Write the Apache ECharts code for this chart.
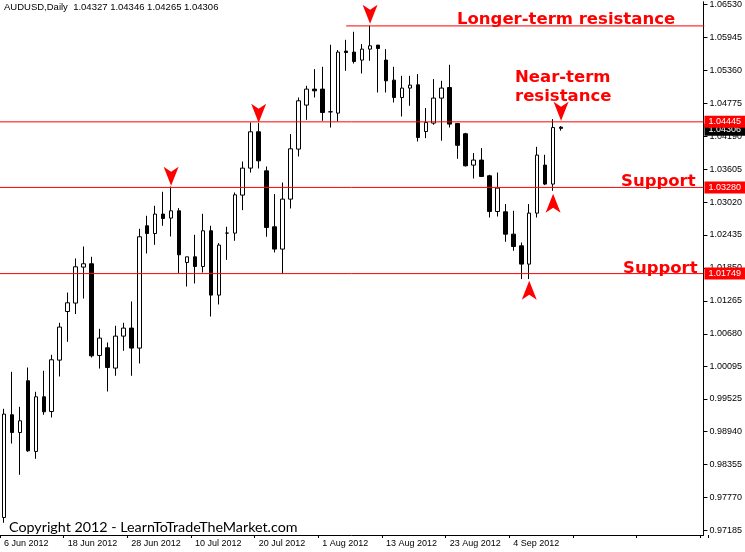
<!DOCTYPE html>
<html>
<head>
<meta charset="utf-8">
<script src="https://cdn.jsdelivr.net/npm/echarts@6/dist/echarts.min.js"></script>
<style>
  html, body { margin: 0; padding: 0; background: #fff; }
  #chart { width: 745px; height: 552px; }
</style>
</head>
<body>
<div id="chart"></div>
<script>
// AUDUSD daily candles, 6 Jun 2012 - 12 Sep 2012
const symbol = 'AUDUSD';
const period = 'Daily';

const dates = [
  '6 Jun 2012', '7 Jun 2012', '8 Jun 2012', '11 Jun 2012', '12 Jun 2012', '13 Jun 2012', '14 Jun 2012', '15 Jun 2012',
  '18 Jun 2012', '19 Jun 2012', '20 Jun 2012', '21 Jun 2012', '22 Jun 2012', '25 Jun 2012', '26 Jun 2012', '27 Jun 2012',
  '28 Jun 2012', '29 Jun 2012', '2 Jul 2012', '3 Jul 2012', '4 Jul 2012', '5 Jul 2012', '6 Jul 2012', '9 Jul 2012',
  '10 Jul 2012', '11 Jul 2012', '12 Jul 2012', '13 Jul 2012', '16 Jul 2012', '17 Jul 2012', '18 Jul 2012', '19 Jul 2012',
  '20 Jul 2012', '23 Jul 2012', '24 Jul 2012', '25 Jul 2012', '26 Jul 2012', '27 Jul 2012', '30 Jul 2012', '31 Jul 2012',
  '1 Aug 2012', '2 Aug 2012', '3 Aug 2012', '6 Aug 2012', '7 Aug 2012', '8 Aug 2012', '9 Aug 2012', '10 Aug 2012',
  '13 Aug 2012', '14 Aug 2012', '15 Aug 2012', '16 Aug 2012', '17 Aug 2012', '20 Aug 2012', '21 Aug 2012', '22 Aug 2012',
  '23 Aug 2012', '24 Aug 2012', '27 Aug 2012', '28 Aug 2012', '29 Aug 2012', '30 Aug 2012', '31 Aug 2012', '3 Sep 2012',
  '4 Sep 2012', '5 Sep 2012', '6 Sep 2012', '7 Sep 2012', '10 Sep 2012', '11 Sep 2012', '12 Sep 2012'
];

const opens = [
  0.97415, 0.99234, 0.98920, 0.99836, 0.98584, 0.99552, 0.99292, 1.00202,
  1.01063, 1.01212, 1.01849, 1.01908, 1.00284, 1.00420, 1.00061, 1.00627,
  1.00769, 1.00415, 1.02581, 1.02444, 1.02788, 1.02717, 1.02846, 1.01931,
  1.02031, 1.01860, 1.02492, 1.01353, 1.02451, 1.02451, 1.03124, 1.03602,
  1.04245, 1.03554, 1.02563, 1.02168, 1.03053, 1.03939, 1.04718, 1.05001,
  1.05001, 1.04599, 1.04576, 1.05674, 1.05656, 1.05515, 1.05709, 1.05780,
  1.05515, 1.05160, 1.04852, 1.05019, 1.05077, 1.04250, 1.04399, 1.04842,
  1.05029, 1.04392, 1.04210, 1.03655, 1.03744, 1.03466, 1.02834, 1.02828,
  1.02433, 1.02226, 1.01902, 1.02805, 1.03655, 1.03319, 1.04327
];

const highs = [
  0.99340, 0.99995, 0.99375, 1.00071, 0.99641, 1.00013, 1.00296, 1.00863,
  1.01399, 1.02002, 1.02214, 1.02031, 1.00756, 1.00514, 1.00810, 1.00863,
  1.01240, 1.02527, 1.02758, 1.02935, 1.03183, 1.03275, 1.02894, 1.02031,
  1.02421, 1.02793, 1.02581, 1.02274, 1.02563, 1.03170, 1.03719, 1.04410,
  1.04400, 1.03631, 1.03142, 1.03347, 1.04204, 1.04852, 1.05060, 1.05355,
  1.05396, 1.05786, 1.05692, 1.05874, 1.06016, 1.05798, 1.06122, 1.05780,
  1.05709, 1.05396, 1.05237, 1.05237, 1.05267, 1.04665, 1.05178, 1.05148,
  1.05431, 1.04392, 1.04227, 1.03868, 1.03956, 1.03484, 1.03524, 1.02965,
  1.02846, 1.02285, 1.02965, 1.03979, 1.03838, 1.04470, 1.04346
];

const lows = [
  0.97321, 0.98725, 0.98171, 0.98578, 0.98454, 0.99234, 0.99186, 0.99912,
  1.00526, 1.01017, 1.01293, 1.00248, 1.00053, 0.99646, 0.99924, 1.00367,
  0.99924, 1.00142, 1.02090, 1.02244, 1.02581, 1.02391, 1.01743, 1.01506,
  1.01559, 1.01753, 1.00974, 1.01187, 1.01978, 1.02315, 1.02858, 1.03524,
  1.03595, 1.02386, 1.02108, 1.01725, 1.02887, 1.03808, 1.04457, 1.04852,
  1.04440, 1.04321, 1.04427, 1.05325, 1.05454, 1.05277, 1.05502, 1.04941,
  1.04941, 1.04764, 1.04516, 1.04705, 1.04073, 1.04133, 1.04369, 1.04086,
  1.04321, 1.03767, 1.03631, 1.03418, 1.03448, 1.02727, 1.02745, 1.02297,
  1.02138, 1.01637, 1.01637, 1.02727, 1.03301, 1.03200, 1.04265
];

const closes = [
  0.99246, 0.98920, 0.99127, 0.98596, 0.99552, 0.99287, 1.00208, 1.00787,
  1.01217, 1.01855, 1.01908, 1.00278, 1.00592, 1.00071, 1.00627, 1.00769,
  1.00415, 1.02386, 1.02444, 1.02788, 1.02710, 1.02846, 1.02067, 1.02031,
  1.01860, 1.02492, 1.01353, 1.02239, 1.02451, 1.03129, 1.03602, 1.04245,
  1.03731, 1.02550, 1.02168, 1.03053, 1.03944, 1.04794, 1.05001, 1.04971,
  1.04587, 1.04599, 1.05656, 1.05649, 1.05490, 1.05709, 1.05768, 1.05720,
  1.05148, 1.04852, 1.05019, 1.05072, 1.04144, 1.04410, 1.04842, 1.05019,
  1.04381, 1.04006, 1.03643, 1.03744, 1.03453, 1.02834, 1.03248, 1.02433,
  1.02214, 1.01902, 1.02805, 1.03832, 1.03319, 1.04320, 1.04306
];

// price scale labels on the right
const tickLabels = [
  '0.97185', '0.97770', '0.98355', '0.98940', '0.99525', '1.00095', '1.00680', '1.01265', '1.01850',
  '1.02435', '1.03020', '1.03605', '1.04190', '1.04775', '1.05360', '1.05945', '1.06530'
];

// horizontal support / resistance levels
const levels = [1.04445, 1.03280, 1.01749];
const longTermLevel = 1.06120;
const longTermFromIndex = 43;

// turning-point markers: [candle index, price at the tip]
const topMarkers = [[21, 1.03289], [32, 1.04404], [46, 1.06157], [70, 1.04440]];
const bottomMarkers = [[69, 1.03147], [66, 1.01607]];

// empty slots kept to the right of the last candle
const futureSlots = 18;

const categories = dates.concat(Array.from({ length: futureSlots }, (_, i) => 'next' + (i + 1)));
const candles = dates.map((d, i) => [opens[i], closes[i], lows[i], highs[i]]);
const last = dates.length - 1;
const lastPrice = closes[last];
const tickValues = tickLabels.map(Number);

const yMin = 0.97105;
const yMax = 1.06579;

const fmt = v => Number(v).toFixed(5);
const titleText = symbol + ',' + period + '  ' +
  [opens[last], highs[last], lows[last], closes[last]].map(fmt).join(' ');

const downArrow = 'path://M0,0L7.5,5L15,0L7.5,19Z';
const upArrow = 'path://M7.5,0L15,19L7.5,14L0,19Z';
const red = '#ff0000';
const redLine = { color: red, width: 1, type: 'solid', opacity: 1 };
const uiFont = 'Liberation Sans';
const noteFont = 'bold 16.5px "DejaVu Sans"';

const chart = echarts.init(document.getElementById('chart'), null, { renderer: 'canvas' });

chart.setOption({
  animation: false,
  backgroundColor: '#ffffff',
  textStyle: { fontFamily: uiFont },
  title: {
    text: titleText,
    left: 4,
    top: 2,
    padding: 0,
    textStyle: { fontSize: 9.5, fontWeight: 'normal', color: '#000', fontFamily: uiFont }
  },
  grid: [
    { left: -3.7, top: 0, width: 8 * categories.length, bottom: 17 },
    { left: 0, right: 40, top: 0, bottom: 17 }
  ],
  xAxis: [
    {
      type: 'category',
      gridIndex: 0,
      data: categories,
      boundaryGap: true,
      axisLine: { show: false },
      axisTick: { show: true, interval: 7, length: 3, lineStyle: { color: '#000' } },
      axisLabel: {
        interval: 7,
        align: 'left',
        margin: 4,
        fontSize: 9,
        color: '#000',
        fontFamily: uiFont,
        formatter: (v, i) => (i < dates.length ? v : '')
      },
      splitLine: { show: false }
    },
    {
      type: 'value',
      gridIndex: 1,
      min: 0,
      max: 1,
      axisLine: { show: true, onZero: false, lineStyle: { color: '#000', width: 1 } },
      axisTick: { show: false },
      axisLabel: { show: false },
      splitLine: { show: false }
    }
  ],
  yAxis: [
    { type: 'value', gridIndex: 0, min: yMin, max: yMax, show: false, splitLine: { show: false } },
    {
      type: 'value',
      gridIndex: 1,
      position: 'right',
      min: yMin,
      max: yMax,
      axisLine: { show: true, onZero: false, lineStyle: { color: '#000', width: 1 } },
      axisTick: { show: true, customValues: tickValues, length: 4, lineStyle: { color: '#000' } },
      axisLabel: {
        show: true,
        customValues: tickValues,
        formatter: v => fmt(v),
        margin: 6,
        fontSize: 9,
        color: '#000',
        fontFamily: uiFont
      },
      splitLine: { show: false }
    }
  ],
  series: [
    {
      type: 'candlestick',
      xAxisIndex: 0,
      yAxisIndex: 0,
      data: candles,
      barWidth: 4,
      silent: true,
      itemStyle: {
        color: '#ffffff',
        color0: '#000000',
        borderColor: '#000000',
        borderColor0: '#000000',
        borderColorDoji: '#000000',
        borderWidth: 1
      },
      markPoint: {
        silent: true,
        label: { show: false },
        itemStyle: { color: red },
        data: topMarkers.map(([i, p]) => ({
          coord: [categories[i], p], symbol: downArrow, symbolSize: [15, 19], symbolOffset: [0, -9.5]
        })).concat(bottomMarkers.map(([i, p]) => ({
          coord: [categories[i], p], symbol: upArrow, symbolSize: [15, 19], symbolOffset: [0, 9.5]
        })))
      }
    },
    // longer-term resistance, drawn from the left point onward
    {
      type: 'line',
      xAxisIndex: 0,
      yAxisIndex: 0,
      silent: true,
      symbol: 'none',
      color: red,
      lineStyle: redLine,
      data: [[categories[longTermFromIndex], longTermLevel], [categories[categories.length - 1], longTermLevel]]
    },
    // full-width levels
    ...levels.map(v => ({
      type: 'line',
      xAxisIndex: 1,
      yAxisIndex: 1,
      silent: true,
      symbol: 'none',
      color: red,
      lineStyle: redLine,
      data: [[0, v], [1, v]]
    })),
    // price boxes on the scale
    {
      type: 'line',
      xAxisIndex: 1,
      yAxisIndex: 1,
      data: [],
      silent: true,
      markLine: {
        silent: true,
        precision: 5,
        symbol: ['none', 'none'],
        lineStyle: { color: 'rgba(0,0,0,0)', width: 0 },
        label: {
          show: true,
          position: 'end',
          distance: 1,
          formatter: p => fmt(p.value),
          color: '#fff',
          backgroundColor: red,
          fontSize: 9,
          fontFamily: uiFont,
          lineHeight: 10,
          padding: [1, 12, 1, 4]
        },
        data: [{ yAxis: lastPrice, lineStyle: { color: 'rgba(0,0,0,0)', width: 0 }, label: { backgroundColor: '#000' } }]
          .concat(levels.map(v => ({ yAxis: v, lineStyle: { color: 'rgba(0,0,0,0)', width: 0 } })))
      }
    }
  ],
  graphic: {
    elements: [
      { type: 'text', z: 100, x: 457, y: 20, style: { text: 'Longer-term resistance', fill: red, font: noteFont, verticalAlign: 'middle' } },
      { type: 'text', z: 100, x: 515, y: 77.4, style: { text: 'Near-term', fill: red, font: noteFont, verticalAlign: 'middle' } },
      { type: 'text', z: 100, x: 515, y: 96.8, style: { text: 'resistance', fill: red, font: noteFont, verticalAlign: 'middle' } },
      { type: 'text', z: 100, x: 621, y: 181.5, style: { text: 'Support', fill: red, font: noteFont, verticalAlign: 'middle' } },
      { type: 'text', z: 100, x: 623, y: 268.5, style: { text: 'Support', fill: red, font: noteFont, verticalAlign: 'middle' } },
      { type: 'text', z: 100, x: 9, y: 527, style: { text: 'Copyright 2012 - LearnToTradeTheMarket.com', fill: '#000', font: '14.3px Lato', verticalAlign: 'middle' } }
    ]
  }
});
</script>
</body>
</html>
